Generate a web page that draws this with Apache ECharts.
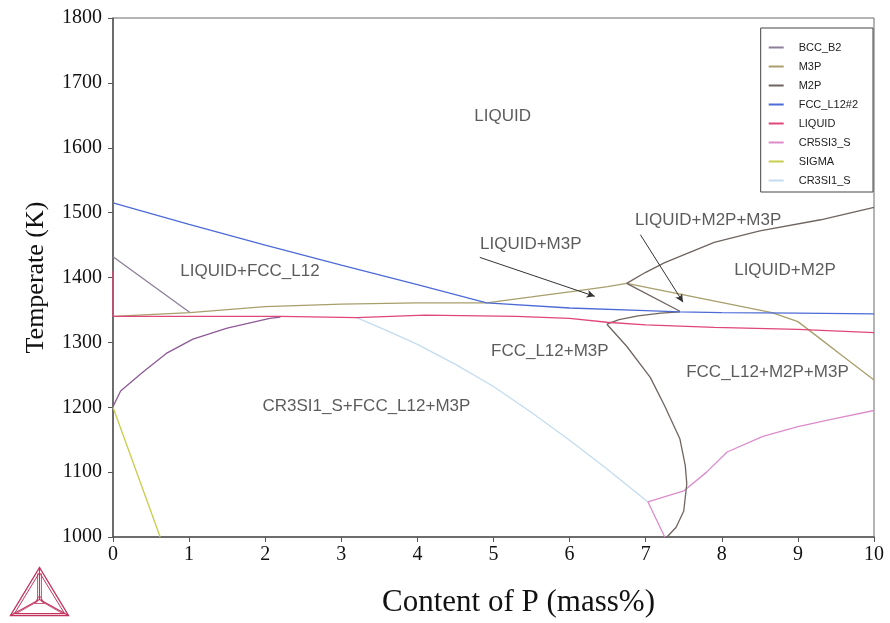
<!DOCTYPE html>
<html>
<head>
<meta charset="utf-8">
<script src="https://cdn.jsdelivr.net/npm/echarts@6/dist/echarts.min.js"></script>
<style>
  html, body { margin: 0; padding: 0; background: #fff; }
  #chart { width: 890px; height: 623px; }
</style>
</head>
<body>
<div id="chart"></div>
<script>
// Phase boundaries of the Cr–Si–P section: [P mass%, T (K)]
const liquidusFcc = [[0,1515],[1,1482],[2,1450],[3,1419],[4,1389],[4.91,1361],[6,1353],[7,1349],[7.45,1347],[8,1346],[9,1345],[10,1344]];
const liquidLine = [[0,1410],[0,1340],[1,1340],[2.2,1340],[3.2,1338],[4.1,1342],[5.3,1340],[6,1337],[6.49,1331],[7,1327],[7.9,1323],[9,1320],[10,1315]];
const bccB2Line = [[0,1432],[1.01,1346]];
const cr5si3Rise = [[0,1201],[0.1,1225],[0.39,1254],[0.7,1283],[1.05,1305],[1.5,1322],[2.06,1337],[2.2,1339]];
const m3pLower = [[0,1340],[1.01,1346],[2,1355],[3,1359],[4,1361],[4.91,1361],[5.5,1370],[6,1378],[6.5,1386],[6.75,1391]];
const m3pFall = [[6.75,1391],[8.66,1346],[9.0,1332],[9.3,1305],[9.6,1278],[10,1242]];
const m2pRise = [[6.75,1391],[7.0,1408],[7.25,1423],[7.9,1454],[8.5,1472],[9.3,1489],[10,1508]];
const m2pShort = [[6.75,1391],[7.45,1348]];
const m2pNose = [[7.45,1347],[7.2,1345],[6.9,1341],[6.65,1335],[6.49,1328]];
const m2pSolvus = [[6.49,1328],[6.75,1294],[7.06,1246],[7.25,1202],[7.45,1151],[7.52,1110],[7.54,1082],[7.50,1040],[7.40,1015],[7.28,1000]];
const sigmaLine = [[0,1200],[0.62,1000]];
const cr3si1Line = [[3.2,1338],[3.6,1318],[4,1297],[4.5,1266],[5,1232],[5.5,1192],[6,1149],[6.5,1104],[7.03,1054]];
const cr5si3Low = [[7.25,1000],[7.03,1054],[7.5,1071],[7.8,1100],[8.07,1131],[8.54,1155],[9,1170],[9.5,1183],[10,1195]];

// Phase-field labels: [x, T, text]
const fieldLabels = [
  [5.12,1648,'LIQUID'],
  [1.80,1409,'LIQUID+FCC_L12'],
  [5.49,1451,'LIQUID+M3P'],
  [7.82,1488,'LIQUID+M2P+M3P'],
  [8.83,1411,'LIQUID+M2P'],
  [5.74,1286,'FCC_L12+M3P'],
  [8.60,1254,'FCC_L12+M2P+M3P'],
  [3.33,1202,'CR3SI1_S+FCC_L12+M3P']
];
// Pointer arrows: [from, to]
const arrows = [
  [[4.82,1431],[6.33,1371]],
  [[6.93,1466],[7.49,1362]]
];

const legendNames = ['BCC_B2','M3P','M2P','FCC_L12#2','LIQUID','CR5SI3_S','SIGMA','CR3SI1_S'];
const colors = {
  'BCC_B2':'#8e7f98', 'M3P':'#a89f6c', 'M2P':'#6f6560', 'FCC_L12#2':'#4d6bd6',
  'LIQUID':'#e0467a', 'CR5SI3_S':'#dc8ccc', 'SIGMA':'#c9cc4c', 'CR3SI1_S':'#c3dcef'
};

const serif = '"Liberation Serif", "Times New Roman", serif';
const sans = 'Arial, "Liberation Sans", sans-serif';

function line(name, data, color) {
  const c = color || colors[name];
  return {
    type:'line', name:name, data:data, showSymbol:false, symbol:'none',
    lineStyle:{color:c, width:1.3}, itemStyle:{color:c},
    animation:false, silent:true
  };
}

const series = [
  line('CR3SI1_S', cr3si1Line),
  line('SIGMA', sigmaLine),
  line('CR5SI3_S', cr5si3Low),
  line('CR5SI3_S_rise', cr5si3Rise, '#8e5a98'),
  line('BCC_B2', bccB2Line),
  line('M3P', m3pLower),
  line('M3P', m3pFall),
  line('M2P', m2pRise),
  line('M2P', m2pShort),
  line('M2P', m2pNose),
  line('M2P', m2pSolvus),
  line('LIQUID', liquidLine),
  line('FCC_L12#2', liquidusFcc),
  {
    type:'scatter', name:'labels', symbolSize:0, silent:true, animation:false,
    data: fieldLabels.map(d => ({value:[d[0], d[1]], name:d[2]})),
    label:{show:true, position:'inside', formatter:p => p.name,
      fontFamily:sans, fontSize:17, color:'#333'},
    markLine:{
      silent:true, animation:false, symbol:['none','arrow'], symbolSize:[6,8],
      lineStyle:{color:'#333', width:1, type:'solid'}, label:{show:false},
      data: arrows.map(a => [{coord:a[0]},{coord:a[1]}])
    }
  }
];

const chart = echarts.init(document.getElementById('chart'));
chart.setOption({
  backgroundColor:'#fff',
  animation:false,
  grid:{left:113, top:18, right:16, bottom:85, show:true, borderColor:'#6a6a6a', borderWidth:1},
  legend:{
    data: legendNames.map(n => ({name:n, icon:'rect'})),
    orient:'vertical', right:17, top:28, itemWidth:15, itemHeight:2, itemGap:8,
    padding:[14,15,6,8],
    borderColor:'#444', borderWidth:1, backgroundColor:'#fff',
    textStyle:{fontFamily:sans, fontSize:11, color:'#222', padding:[0,0,0,10]},
    selectedMode:false
  },
  xAxis:{
    type:'value', min:0, max:10, interval:1,
    name:'Content of P (mass%)', nameLocation:'middle', nameGap:50,
    nameTextStyle:{fontFamily:serif, fontSize:31, color:'#111', padding:[0,0,0,50]},
    axisLine:{lineStyle:{color:'#555', width:1.5}},
    axisTick:{show:true, inside:false, length:5, lineStyle:{color:'#555'}},
    axisLabel:{fontFamily:serif, fontSize:20, color:'#111', margin:8, formatter:v => String(v)},
    splitLine:{show:false}
  },
  yAxis:{
    type:'value', min:1000, max:1800, interval:100,
    name:'Temperate (K)', nameLocation:'middle', nameGap:64, nameRotate:90,
    nameTextStyle:{fontFamily:serif, fontSize:26, color:'#111'},
    axisLine:{show:true, lineStyle:{color:'#555', width:1.5}},
    axisTick:{show:true, inside:false, length:5, lineStyle:{color:'#555'}},
    axisLabel:{fontFamily:serif, fontSize:20, color:'#111', margin:11, formatter:v => String(v)},
    splitLine:{show:false}
  },
  graphic:[{
    type:'group', left:8, top:565, silent:true,
    children:[
      {type:'polygon', shape:{points:[[29,0],[0,48],[58,48]]}, style:{fill:'none', stroke:'#c2345e', lineWidth:1.4}},
      {type:'polygon', shape:{points:[[29,5],[4,46],[54,46]]}, style:{fill:'none', stroke:'#c2345e', lineWidth:1}},
      {type:'polyline', shape:{points:[[29,0],[29,32],[0,48]]}, style:{fill:'none', stroke:'#c2345e', lineWidth:1.2}},
      {type:'polyline', shape:{points:[[29,32],[58,48]]}, style:{fill:'none', stroke:'#c2345e', lineWidth:1.2}},
      {type:'polyline', shape:{points:[[27,6],[27,34],[6,46]]}, style:{fill:'none', stroke:'#c2345e', lineWidth:0.8}},
      {type:'polyline', shape:{points:[[31,6],[31,34],[52,46]]}, style:{fill:'none', stroke:'#c2345e', lineWidth:0.8}},
      {type:'polygon', shape:{points:[[29,28],[24,36],[34,36]]}, style:{fill:'none', stroke:'#c2345e', lineWidth:0.8}}
    ]
  }],
  series: series
});
</script>
</body>
</html>
